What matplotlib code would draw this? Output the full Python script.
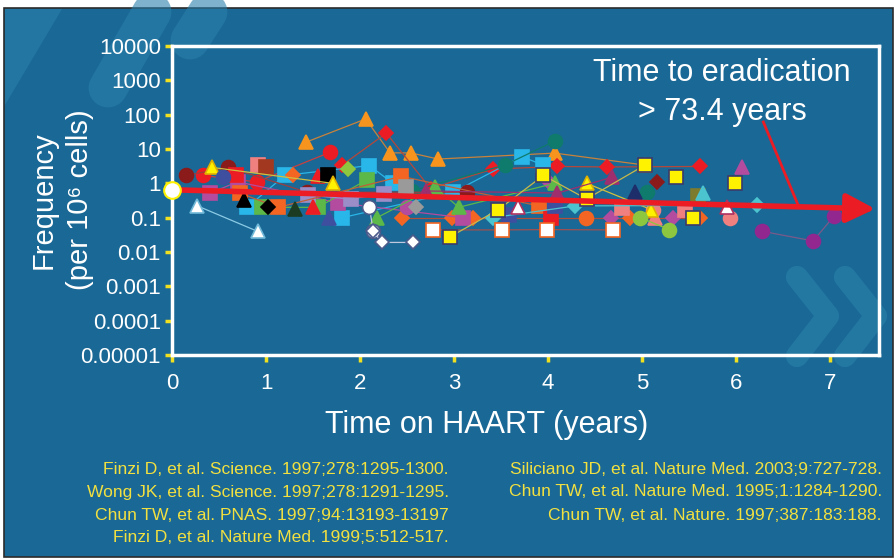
import matplotlib as mpl
mpl.use('Agg')
import matplotlib.pyplot as plt
from matplotlib.patches import Rectangle
from matplotlib.lines import Line2D
from matplotlib.ticker import NullLocator

plt.rcParams['font.family'] = ['Liberation Sans', 'DejaVu Sans']

# colours
BG = '#1a6895'
RED = '#ec1c24'
MAROON = '#8b1a1a'
ORANGE = '#f7941d'
ORANGERED = '#f26522'
YELLOW = '#fff200'
LBLUE = '#29b6e8'
GREEN = '#5cb848'
LIME = '#8dc63f'
TEAL = '#0f7b6c'
MAGENTA = '#b34b9e'
VIOLET = '#92278f'
PINK = '#f08080'
NAVY = '#1d2e6b'
BLUE = '#3f4fa0'
DKGREEN = '#1b3b22'
GRAY = '#9a9a9a'
OLIVE = '#7d7b2e'
BROWN = '#a2381f'
TURQ = '#4cc4d0'
PLUM = '#9e2f6e'
LAVENDER = '#9b8dc8'
WHITE = '#ffffff'
TICKYEL = '#f0e020'
REFYEL = '#f2e040'

# axes
x_ticks = [0, 1, 2, 3, 4, 5, 6, 7]
y_ticks = [1e-5, 1e-4, 1e-3, 1e-2, 1e-1, 1, 10, 100, 1000, 10000]
y_ticklabels = ['0.00001', '0.0001', '0.001', '0.01', '0.1', '1', '10', '100', '1000', '10000']

# patient series: time on HAART (years), frequency per 10^6 cells
tri_orange_t = [1.43, 2.06, 2.32, 2.54, 2.83, 4.07, 5.03]
tri_orange_f = [16, 75, 7.7, 7.7, 5.1, 7.6, 3.4]
circ_red_t = [0.33, 0.90, 1.68]
circ_red_f = [1.7, 1.1, 8.0]
dia_red_t = [1.81, 2.28, 2.75, 3.41, 4.10, 4.63, 5.62]
dia_red_f = [3.4, 29, 0.7, 2.6, 3.1, 3.0, 3.1]
sq_lblue_t = [0.80, 1.20, 2.10, 2.35]
sq_lblue_f = [0.2, 1.7, 3.3, 1.0]
sq_lblue2_t = [1.81, 2.99, 3.72, 3.95]
sq_lblue2_f = [0.1, 0.55, 6.0, 3.4]
circ_teal_t = [2.55, 3.54, 4.07]
circ_teal_f = [0.6, 3.4, 17]
circ_teal2_t = [5.05]
circ_teal2_f = [0.55]
circ_white_t = [2.10, 2.14]
circ_white_f = [0.2, 0.041]
dia_white_t = [2.14, 2.23, 2.56]
dia_white_f = [0.041, 0.019, 0.019]
sq_white_t = [2.78, 3.51, 3.99, 4.69]
sq_white_f = [0.044, 0.044, 0.045, 0.044]
sq_yellow_t = [2.96, 3.47, 3.95, 4.41, 5.03]
sq_yellow_f = [0.028, 0.17, 1.7, 0.35, 3.4]
sq_yellow2_t = [5.36, 5.99, 5.54]
sq_yellow2_f = [1.5, 1.0, 0.1]
circ_violet_t = [6.28, 6.82, 7.04]
circ_violet_f = [0.04, 0.021, 0.11]
circ_lime_t = [4.98, 5.29]
circ_lime_f = [0.1, 0.045]
tri_white_t = [0.27, 0.91]
tri_white_f = [0.22, 0.04]
tri_white2_t = [3.68, 5.90]
tri_white2_f = [0.2, 0.2]
dia_orange_t = [2.45, 2.98, 3.20, 4.87, 5.62]
dia_orange_f = [0.1, 0.1, 0.1, 0.1, 0.1]
dia_orange2_t = [1.29]
dia_orange2_f = [1.7]
sq_magenta_t = [0.40, 0.70, 1.77, 3.09]
sq_magenta_f = [0.52, 1.1, 0.27, 0.1]
dia_magenta_t = [4.01, 4.67, 5.33]
dia_magenta_f = [1.1, 0.1, 0.1]
circ_magenta_t = [2.50]
circ_magenta_f = [0.2]
circ_maroon_t = [0.15, 0.60, 1.44, 3.14]
circ_maroon_f = [1.7, 2.9, 0.55, 0.55]
sq_pink_t = [0.91, 4.79, 5.46]
sq_pink_f = [3.4, 0.19, 0.17]
tri_pink_t = [5.14, 5.48]
tri_pink_f = [0.1, 0.17]
circ_pink_t = [5.94, 5.12]
circ_pink_f = [0.1, 0.17]
tri_green_t = [2.18, 2.80, 3.05, 4.07]
tri_green_f = [0.1, 0.77, 0.2, 1.0]
sq_green_t = [0.96, 1.55, 2.07]
sq_green_f = [0.2, 0.2, 1.25]
sq_black_t = [1.66]
sq_black_f = [1.7]
dia_black_t = [1.02]
dia_black_f = [0.2]
tri_black_t = [0.77]
tri_black_f = [0.33]
tri_dkgreen_t = [1.31]
tri_dkgreen_f = [0.18]
tri_yellow_t = [0.43, 1.71]
tri_yellow_f = [2.9, 1.0]
tri_yellow2_t = [4.41, 5.10]
tri_yellow2_f = [1.0, 0.17]
circ_blue_t = [0.54]
circ_blue_f = [1.5]
tri_blue_t = [1.67]
tri_blue_f = [0.1]
sq_blue_t = [3.58, 4.07]
sq_blue_f = [0.12, 0.22]
sq_gray_t = [2.49]
sq_gray_f = [0.77]
dia_gray_t = [2.60]
dia_gray_f = [0.2]
dia_turq_t = [3.41, 4.29, 6.22]
dia_turq_f = [0.1, 0.22, 0.23]
tri_plum_t = [2.70, 4.10, 4.68]
tri_plum_f = [0.6, 0.52, 1.5]
sq_brown_t = [1.00]
sq_brown_f = [2.9]
sq_red_t = [0.68, 4.03]
sq_red_f = [1.7, 0.1]
sq_orange_t = [0.72, 1.13, 2.44, 3.90]
sq_orange_f = [0.52, 0.2, 1.6, 0.22]
tri_red_t = [1.50, 1.55]
tri_red_f = [0.2, 1.6]
tri_navy_t = [4.93]
tri_navy_f = [0.55]
dia_maroon_t = [5.16]
dia_maroon_f = [1.1]
dia_lime_t = [1.87]
dia_lime_f = [2.7]
sq_olive_t = [5.60]
sq_olive_f = [0.43]
tri_turq_t = [5.65]
tri_turq_f = [0.52]
tri_magenta_t = [6.06]
tri_magenta_f = [3.0]
circ_orange_t = [4.40]
circ_orange_f = [0.1]
sq_lavender_t = [1.45, 1.90, 2.25]
sq_lavender_f = [0.45, 0.35, 0.5]

# decay trend and annotation
trend_t = [0.0, 7.48]
trend_f = [0.65, 0.18]
pointer_t = [6.29, 6.66]
pointer_f = [61, 0.23]
note_t = 5.85
note_f = [1640, 120]
note_lines = ['Time to eradication', '> 73.4 years']

refs_left = ['Finzi D, et al. Science. 1997;278:1295-1300.',
             'Wong JK, et al. Science. 1997;278:1291-1295.',
             'Chun TW, et al. PNAS. 1997;94:13193-13197',
             'Finzi D, et al. Nature Med. 1999;5:512-517.']
refs_right = ['Siliciano JD, et al. Nature Med. 2003;9:727-728.',
              'Chun TW, et al. Nature Med. 1995;1:1284-1290.',
              'Chun TW, et al. Nature. 1997;387:183:188.']

# (t, f, marker, face, edge, line colour or None)
series = [
    (tri_orange_t, tri_orange_f, '^', ORANGE, ORANGE, '#c8823c'),
    (circ_red_t, circ_red_f, 'o', RED, RED, '#c84040'),
    (dia_red_t, dia_red_f, 'D', RED, RED, '#b5473a'),
    (sq_lblue_t, sq_lblue_f, 's', LBLUE, LBLUE, LBLUE),
    (sq_lblue2_t, sq_lblue2_f, 's', LBLUE, LBLUE, LBLUE),
    (circ_teal_t, circ_teal_f, 'o', TEAL, TEAL, TEAL),
    (circ_teal2_t, circ_teal2_f, 'o', TEAL, TEAL, None),
    (dia_orange_t, dia_orange_f, 'D', ORANGERED, ORANGERED, '#b0503a'),
    (dia_orange2_t, dia_orange2_f, 'D', ORANGERED, ORANGERED, None),
    (sq_magenta_t, sq_magenta_f, 's', MAGENTA, MAGENTA, MAGENTA),
    (dia_magenta_t, dia_magenta_f, 'D', MAGENTA, MAGENTA, None),
    (circ_magenta_t, circ_magenta_f, 'o', MAGENTA, MAGENTA, None),
    (circ_maroon_t, circ_maroon_f, 'o', MAROON, MAROON, '#9a4040'),
    (sq_pink_t, sq_pink_f, 's', PINK, PINK, None),
    (tri_pink_t, tri_pink_f, '^', PINK, PINK, None),
    (circ_pink_t, circ_pink_f, 'o', PINK, PINK, None),
    (tri_green_t, tri_green_f, '^', GREEN, GREEN, GREEN),
    (sq_green_t, sq_green_f, 's', GREEN, GREEN, GREEN),
    (sq_lavender_t, sq_lavender_f, 's', LAVENDER, LAVENDER, LAVENDER),
    (sq_orange_t, sq_orange_f, 's', ORANGERED, ORANGERED, '#c0603a'),
    (sq_red_t, sq_red_f, 's', RED, RED, None),
    (sq_brown_t, sq_brown_f, 's', BROWN, BROWN, None),
    (tri_red_t, tri_red_f, '^', RED, RED, None),
    (sq_black_t, sq_black_f, 's', 'black', 'black', None),
    (dia_black_t, dia_black_f, 'D', 'black', 'black', None),
    (tri_black_t, tri_black_f, '^', 'black', 'black', None),
    (tri_dkgreen_t, tri_dkgreen_f, '^', DKGREEN, DKGREEN, None),
    (tri_yellow_t, tri_yellow_f, '^', YELLOW, '#e0b000', '#d0c040'),
    (tri_yellow2_t, tri_yellow2_f, '^', YELLOW, '#e0b000', '#d0c040'),
    (circ_blue_t, circ_blue_f, 'o', BLUE, BLUE, None),
    (tri_blue_t, tri_blue_f, '^', BLUE, BLUE, None),
    (sq_blue_t, sq_blue_f, 's', BLUE, BLUE, None),
    (sq_gray_t, sq_gray_f, 's', GRAY, GRAY, None),
    (dia_gray_t, dia_gray_f, 'D', GRAY, GRAY, None),
    (dia_turq_t, dia_turq_f, 'D', TURQ, TURQ, TURQ),
    (tri_plum_t, tri_plum_f, '^', PLUM, PLUM, PLUM),
    (tri_navy_t, tri_navy_f, '^', NAVY, NAVY, None),
    (dia_maroon_t, dia_maroon_f, 'D', MAROON, MAROON, None),
    (dia_lime_t, dia_lime_f, 'D', LIME, LIME, None),
    (sq_olive_t, sq_olive_f, 's', OLIVE, OLIVE, None),
    (tri_turq_t, tri_turq_f, '^', TURQ, TURQ, None),
    (tri_magenta_t, tri_magenta_f, '^', MAGENTA, MAGENTA, None),
    (circ_orange_t, circ_orange_f, 'o', ORANGERED, ORANGERED, None),
    (circ_lime_t, circ_lime_f, 'o', LIME, LIME, LIME),
    (circ_violet_t, circ_violet_f, 'o', VIOLET, VIOLET, '#7a5a8a'),
    (tri_white_t, tri_white_f, '^', WHITE, '#6fb8d8', '#8ccbe6'),
    (tri_white2_t, tri_white2_f, '^', WHITE, '#b03060', None),
    (circ_white_t, circ_white_f, 'o', WHITE, '#4a5a8a', '#c0c8e0'),
    (dia_white_t, dia_white_f, 'D', WHITE, '#4a5a8a', '#c0c8e0'),
    (sq_white_t, sq_white_f, 's', WHITE, ORANGERED, '#a05050'),
    (sq_yellow_t, sq_yellow_f, 's', YELLOW, '#3a3a6a', '#c9b84a'),
    (sq_yellow2_t, sq_yellow2_f, 's', YELLOW, '#3a3a6a', None),
]
MS = {'s': 9.5, 'o': 10, '^': 10.5, 'D': 7.5}

W, H = 895, 560


def fpos(x, y):
    # pixel position -> figure fraction
    return x / W, 1 - y / H


fig = plt.figure(figsize=(8.95, 5.6), dpi=100)
fig.patch.set_facecolor('white')
fig.add_artist(Rectangle(fpos(4, 557), 889 / W, 549 / H, transform=fig.transFigure,
                         facecolor=BG, edgecolor='#2b2b2b', lw=1.2, zorder=-3))

# faint background decorations
deco = '#2a80aa'
fig.add_artist(plt.Polygon([fpos(5, 9), fpos(62, 9), fpos(5, 105)], closed=True,
                           transform=fig.transFigure, facecolor=deco, edgecolor='none',
                           alpha=0.6, zorder=-2))
for (x0, y0), (x1, y1) in [((108, 88), (152, 12)), ((190, 40), (208, 12))]:
    a, b = fpos(x0, y0), fpos(x1, y1)
    fig.add_artist(Line2D([a[0], b[0]], [a[1], b[1]], transform=fig.transFigure, lw=28,
                          color=deco, alpha=0.6, solid_capstyle='round', zorder=-2))
for dx in (0, 48):
    pts = [fpos(797 + dx, 277), fpos(828 + dx, 316), fpos(797 + dx, 356)]
    fig.add_artist(Line2D([p[0] for p in pts], [p[1] for p in pts], transform=fig.transFigure,
                          lw=16, color='#2b86ae', alpha=0.55, solid_capstyle='round',
                          solid_joinstyle='round', zorder=-2))

l, b = fpos(172, 355)
ax = fig.add_axes([l, b, (879 - 172) / W, (355 - 46) / H])
ax.set_facecolor('none')
ax.set_yscale('log')
ax.set_xlim(0, 7.52)
ax.set_ylim(1e-5, 1e4)
ax.set_xticks(x_ticks)
ax.set_xticklabels([str(v) for v in x_ticks])
ax.set_yticks(y_ticks)
ax.set_yticklabels(y_ticklabels)
ax.yaxis.set_minor_locator(NullLocator())
ax.tick_params(direction='out', length=5, width=2.5, color=TICKYEL, labelcolor='white',
               labelsize=16)
ax.tick_params(axis='x', pad=8)
ax.tick_params(axis='y', pad=3)
for sp in ax.spines.values():
    sp.set_color('white')
    sp.set_linewidth(2.5)

for t, f, m, fc, ec, lc in series:
    ax.plot(t, f, ls='-' if lc else 'none', color=lc or fc, lw=0.9,
            marker=m, ms=MS[m], mfc=fc, mec=ec, mew=1.2, zorder=3)

# decay trend
ax.annotate('', xy=(trend_t[1], trend_f[1]), xytext=(trend_t[0], trend_f[0]),
            arrowprops=dict(arrowstyle='-|>,head_length=0.7,head_width=0.35', lw=4,
                            color=RED, shrinkA=0, shrinkB=0, mutation_scale=25),
            zorder=5)
ax.plot(pointer_t, pointer_f, color=RED, lw=2, zorder=5)
ax.plot(trend_t[0], trend_f[0], 'o', ms=12, mfc=WHITE, mec=YELLOW, mew=1.5,
        zorder=6, clip_on=False)

for txt, fy in zip(note_lines, note_f):
    ax.text(note_t, fy, txt, color='white', fontsize=22, ha='center', va='center')

fig.text(*fpos(487, 425), 'Time on HAART (years)', color='white', fontsize=22,
         ha='center', va='center')
fig.text(*fpos(44, 200), 'Frequency', color='white', fontsize=21, rotation=90,
         ha='center', va='center')
fig.text(*fpos(80, 200), '(per 10\u2076 cells)', color='white', fontsize=21, rotation=90,
         ha='center', va='center')

for i, r in enumerate(refs_left):
    fig.text(*fpos(449, 469 + 23 * i), r, color=REFYEL, fontsize=12.6, ha='right', va='center')
for i, r in enumerate(refs_right):
    fig.text(*fpos(882, 469 + 23 * i), r, color=REFYEL, fontsize=12.6, ha='right', va='center')

fig.savefig('out.png', dpi=100, facecolor=fig.get_facecolor())
